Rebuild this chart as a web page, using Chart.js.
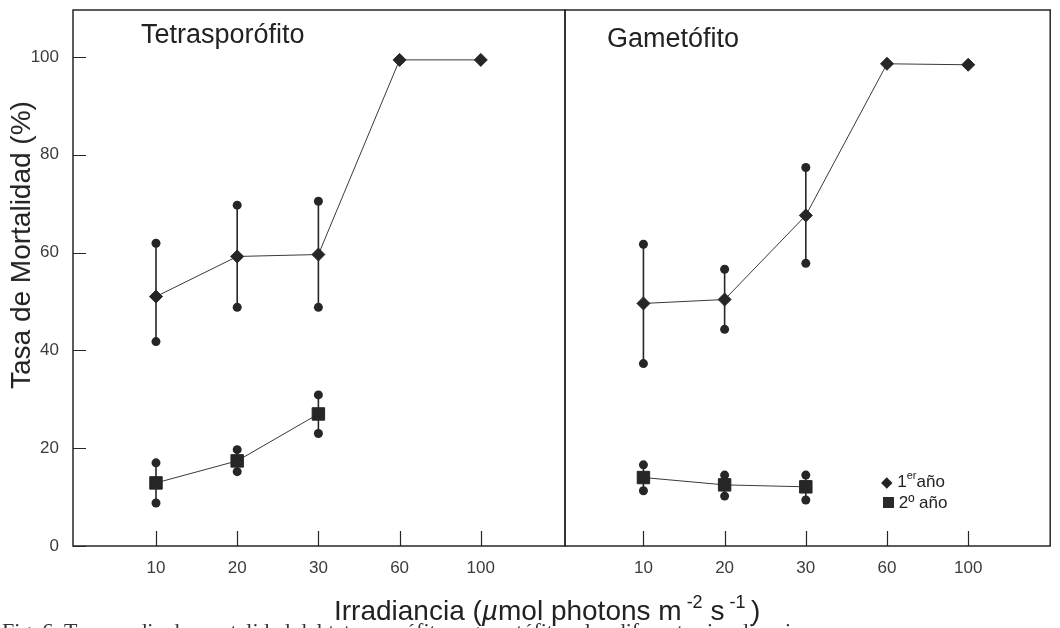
<!DOCTYPE html>
<html>
<head>
<meta charset="utf-8">
<script src="https://cdn.jsdelivr.net/npm/chart.js@4.4.1/dist/chart.umd.min.js"></script>
<style>
  body { margin: 0; background: #fff; }
  #wrap { position: relative; width: 1060px; height: 628px; overflow: hidden; background: #fff;
          font-family: "Liberation Sans", Arial, sans-serif; color: #222; }
  canvas { position: absolute; left: 0; top: 0; }
  .txt { position: absolute; white-space: nowrap; line-height: 1; }
  .leg-mark { display: inline-block; background: #2a2a2a; }
</style>
</head>
<body>
<div id="wrap">
  <canvas id="tetraChart" width="1060" height="628"></canvas>
  <canvas id="gametoChart" width="1060" height="628"></canvas>

  <div class="txt" style="left:141px; top:21px; font-size:27px;">Tetrasporófito</div>
  <div class="txt" style="left:607px; top:25px; font-size:27px;">Gametófito</div>

  <div class="txt" style="left:21px; top:245px; font-size:28px; transform: translate(-50%, -50%) rotate(-90deg);">Tasa de Mortalidad (%)</div>
  <div class="txt" style="left:334px; top:593px; font-size:28px;">Irradiancia (<i>µ</i>mol photons m<sup style="font-size:18px; vertical-align: 12px;">&nbsp;-2</sup> s<sup style="font-size:18px; vertical-align: 12px;">&nbsp;-1</sup>&thinsp;)</div>

  <div class="txt" style="left:881px; top:470px; font-size:17px;">
    <span style="font-family:'DejaVu Sans'; font-size:15px;">&#9670;</span> 1<sup style="font-size:11px; vertical-align:8px;">er</sup>año
  </div>
  <div class="txt" style="left:883px; top:494px; font-size:17px;">
    <span class="leg-mark" style="width:11px; height:11px;"></span> 2º año
  </div>

  <div class="txt" style="left:2px; top:620px; font-size:22px; font-family:'Liberation Serif', serif; color:#333;">Fig. 6. Tasa media de mortalidad del tetrasporófito y gametófito a las diferentes irradiancias</div>
</div>

<script>
// irradiance levels, plotted at evenly spaced positions
const irradianceLabels = ['10', '20', '30', '60', '100']
const xPositions = [1, 2, 3, 4, 5]
const yTicks = [0, 20, 40, 60, 80, 100]

// Tetrasporófito, mortality (%)
const tetraYear1 = [51.0, 59.2, 59.6, 99.4, 99.4]
const tetraYear1Low = [41.8, 48.8, 48.8]
const tetraYear1High = [61.9, 69.7, 70.5]
const tetraYear2 = [12.9, 17.4, 27.0]
const tetraYear2Low = [8.8, 15.2, 23.0]
const tetraYear2High = [17.0, 19.7, 30.9]

// Gametófito, mortality (%)
const gametoYear1 = [49.6, 50.4, 67.6, 98.6, 98.4]
const gametoYear1Low = [37.3, 44.3, 57.8]
const gametoYear1High = [61.7, 56.6, 77.4]
const gametoYear2 = [14.0, 12.5, 12.1]
const gametoYear2Low = [11.3, 10.2, 9.4]
const gametoYear2High = [16.6, 14.5, 14.5]

const ink = '#262626'
const tickFont = { family: "'Liberation Sans', Arial", size: 17 }

function toPoints(values){
  return values.map(function(v, i){
    return { x: xPositions[i], y: v }
  })
}

function meanSet(values, style, radius){
  return {
    data: toPoints(values),
    showLine: true,
    borderColor: '#3a3a3a',
    borderWidth: 1,
    pointStyle: style,
    pointRadius: radius,
    pointBackgroundColor: ink,
    pointBorderColor: ink,
    pointBorderWidth: 1
  }
}

// one small two-point dataset per error bar, dots at both ends
function errorSets(low, high){
  return low.map(function(lo, i){
    return {
      data: [{ x: xPositions[i], y: lo }, { x: xPositions[i], y: high[i] }],
      showLine: true,
      borderColor: ink,
      borderWidth: 1.6,
      pointStyle: 'circle',
      pointRadius: 4.5,
      pointBackgroundColor: ink,
      pointBorderColor: ink,
      pointBorderWidth: 0
    }
  })
}

// box around the panel and tick marks pointing inward
const frameTicks = {
  id: 'frameTicks',
  beforeDatasetsDraw(chart){
    const ctx = chart.ctx
    const a = chart.chartArea
    const xs = chart.scales.x
    const ys = chart.scales.y
    ctx.save()
    ctx.strokeStyle = ink
    ctx.lineWidth = 1.5
    ctx.strokeRect(a.left, a.top, a.right - a.left, a.bottom - a.top)
    ctx.lineWidth = 1.2
    ctx.beginPath()
    xs.ticks.forEach(function(t){
      const px = Math.round(xs.getPixelForValue(t.value)) + 0.5
      ctx.moveTo(px, a.bottom)
      ctx.lineTo(px, a.bottom - 15)
    })
    if (ys.options.display) {
      ys.ticks.forEach(function(t){
        const py = Math.round(ys.getPixelForValue(t.value)) + 0.5
        ctx.moveTo(a.left, py)
        ctx.lineTo(a.left + 13, py)
      })
    }
    ctx.stroke()
    ctx.restore()
  }
}

function noScalePadding(s){
  s.paddingTop = 0
  s.paddingBottom = 0
  s.paddingLeft = 0
  s.paddingRight = 0
}

function makeConfig(datasets, xMin, xMax, padding, showY){
  return {
    type: 'scatter',
    data: { datasets: datasets },
    options: {
      responsive: false,
      animation: false,
      layout: { padding: padding },
      plugins: { legend: { display: false }, tooltip: { enabled: false } },
      scales: {
        x: {
          type: 'linear',
          min: xMin,
          max: xMax,
          afterBuildTicks: function(s){ s.ticks = xPositions.map(function(v){ return { value: v } }) },
          afterFit: function(s){ s.height = 82; noScalePadding(s) },
          grid: { display: false, drawTicks: false },
          border: { display: false },
          ticks: {
            padding: 12,
            color: '#3c3c3c',
            font: tickFont,
            callback: function(v){ return irradianceLabels[xPositions.indexOf(v)] }
          }
        },
        y: {
          display: showY,
          min: 0,
          max: 109.6,
          afterBuildTicks: function(s){ s.ticks = yTicks.map(function(v){ return { value: v } }) },
          afterFit: function(s){ s.width = showY ? 73 : 0; noScalePadding(s) },
          grid: { display: false, drawTicks: false },
          border: { display: false },
          ticks: { padding: 14, color: '#3c3c3c', font: tickFont }
        }
      }
    },
    plugins: [frameTicks]
  }
}

const tetraSets = [
  meanSet(tetraYear1, 'rectRot', 6.5),
  meanSet(tetraYear2, 'rect', 8.8)
].concat(errorSets(tetraYear1Low, tetraYear1High), errorSets(tetraYear2Low, tetraYear2High))

const gametoSets = [
  meanSet(gametoYear1, 'rectRot', 6.5),
  meanSet(gametoYear2, 'rect', 8.8)
].concat(errorSets(gametoYear1Low, gametoYear1High), errorSets(gametoYear2Low, gametoYear2High))

new Chart(document.querySelector('#tetraChart'),
  makeConfig(tetraSets, -0.022, 6.037, { left: 0, right: 495, top: 10, bottom: 0 }, true))

new Chart(document.querySelector('#gametoChart'),
  makeConfig(gametoSets, 0.034, 6.01, { left: 565, right: 6, top: 10, bottom: 0 }, false))
</script>
</body>
</html>
